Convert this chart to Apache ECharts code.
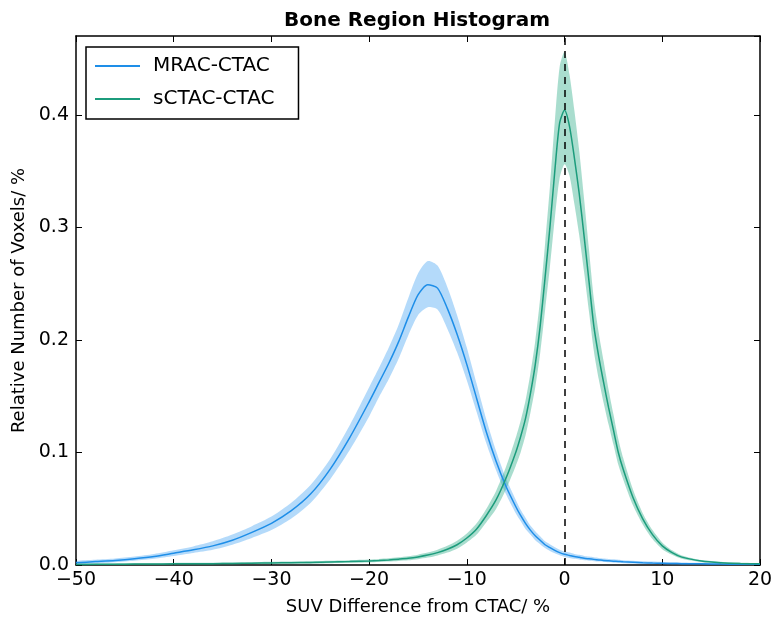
<!DOCTYPE html>
<html>
<head>
<meta charset="utf-8">
<script src="https://cdn.jsdelivr.net/npm/echarts@6/dist/echarts.min.js"></script>
<style>
  html, body { margin: 0; padding: 0; background: #fff; }
  #chart { width: 771px; height: 620px; }
</style>
</head>
<body>
<div id="chart"></div>
<script>
// SUV difference grid (%)
const xs = [-50, -48, -46, -44, -42, -40, -38, -36, -34, -32, -30, -28, -26, -24, -22, -20,
  -19, -18, -17, -16, -15, -14, -13, -12, -11, -10, -9, -8, -7, -6, -5,
  -4.5, -4, -3.5, -3, -2.5, -2, -1.5, -1, -0.5, 0, 0.5, 1, 1.5, 2, 2.5, 3, 3.5, 4, 4.5, 5, 5.5, 6,
  7, 8, 9, 10, 11, 12, 14, 16, 18, 20];

// MRAC-CTAC mean and band
const blueMean = [0.002, 0.003, 0.004, 0.0055, 0.0075, 0.0105, 0.0135, 0.017, 0.022, 0.029, 0.037, 0.048, 0.063, 0.085, 0.113, 0.145,
  0.162, 0.179, 0.198, 0.220, 0.240, 0.249, 0.246, 0.228, 0.205, 0.178, 0.148, 0.118, 0.092, 0.070, 0.052,
  0.044, 0.037, 0.031, 0.026, 0.022, 0.018, 0.0155, 0.013, 0.011, 0.0095, 0.0085, 0.0075, 0.0068, 0.006, 0.0055, 0.005, 0.0045, 0.004, 0.0037, 0.0034, 0.0031, 0.0028,
  0.0024, 0.002, 0.0017, 0.0015, 0.0013, 0.0012, 0.001, 0.0008, 0.0007, 0.0006];
const blueHigh = [0.0035, 0.0047, 0.0058, 0.0075, 0.0097, 0.013, 0.0165, 0.021, 0.027, 0.0345, 0.043, 0.055, 0.071, 0.094, 0.124, 0.158,
  0.175, 0.193, 0.213, 0.237, 0.259, 0.270, 0.266, 0.247, 0.222, 0.193, 0.161, 0.129, 0.101, 0.077, 0.058,
  0.049, 0.042, 0.035, 0.030, 0.0255, 0.021, 0.0185, 0.0158, 0.0136, 0.012, 0.011, 0.0098, 0.009, 0.0081, 0.0075, 0.0069, 0.0063, 0.0057, 0.0053, 0.005, 0.0046, 0.0043,
  0.0038, 0.0033, 0.003, 0.0027, 0.0025, 0.0023, 0.002, 0.0018, 0.0016, 0.0015];
const blueLow = [0.0008, 0.0015, 0.0024, 0.0037, 0.0055, 0.008, 0.0107, 0.0135, 0.018, 0.024, 0.031, 0.041, 0.055, 0.076, 0.102, 0.132,
  0.149, 0.165, 0.183, 0.204, 0.222, 0.229, 0.227, 0.210, 0.189, 0.164, 0.136, 0.108, 0.084, 0.063, 0.046,
  0.039, 0.032, 0.027, 0.022, 0.0185, 0.015, 0.0125, 0.0104, 0.0086, 0.0072, 0.0063, 0.0055, 0.0049, 0.0042, 0.0038, 0.0034, 0.003, 0.0026, 0.0024, 0.0021, 0.0019, 0.0016,
  0.0013, 0.001, 0.0008, 0.0006, 0.0005, 0.0004, 0.0003, 0.0002, 0.0002, 0.0001];

// sCTAC-CTAC mean and band
const greenMean = [0.0005, 0.0006, 0.0007, 0.0008, 0.0009, 0.001, 0.0011, 0.0012, 0.0014, 0.0016, 0.0018, 0.002, 0.0023, 0.0027, 0.0031, 0.0036,
  0.004, 0.0045, 0.0052, 0.006, 0.0072, 0.0088, 0.011, 0.014, 0.018, 0.024, 0.032, 0.044, 0.058, 0.077, 0.100,
  0.114, 0.130, 0.152, 0.178, 0.212, 0.255, 0.300, 0.350, 0.393, 0.404, 0.390, 0.362, 0.330, 0.292, 0.252, 0.212, 0.185, 0.162, 0.140, 0.120, 0.100, 0.085,
  0.060, 0.041, 0.027, 0.017, 0.011, 0.007, 0.0035, 0.002, 0.0013, 0.001];
const greenHigh = [0.0012, 0.0013, 0.0014, 0.0015, 0.0016, 0.0018, 0.0019, 0.002, 0.0022, 0.0025, 0.0028, 0.003, 0.0034, 0.0038, 0.0043, 0.0049,
  0.0054, 0.006, 0.0068, 0.0078, 0.0092, 0.011, 0.0135, 0.017, 0.0215, 0.028, 0.037, 0.050, 0.066, 0.087, 0.113,
  0.128, 0.146, 0.170, 0.199, 0.237, 0.285, 0.336, 0.394, 0.443, 0.456, 0.436, 0.404, 0.368, 0.325, 0.280, 0.236, 0.206, 0.181, 0.156, 0.134, 0.112, 0.095,
  0.067, 0.046, 0.031, 0.020, 0.013, 0.0085, 0.0045, 0.0028, 0.002, 0.0016];
const greenLow = [0.0001, 0.0001, 0.0002, 0.0002, 0.0003, 0.0003, 0.0004, 0.0005, 0.0006, 0.0008, 0.0009, 0.001, 0.0012, 0.0015, 0.0019, 0.0023,
  0.0026, 0.003, 0.0036, 0.0042, 0.0052, 0.0066, 0.0085, 0.011, 0.0145, 0.020, 0.027, 0.038, 0.050, 0.067, 0.088,
  0.100, 0.115, 0.135, 0.158, 0.188, 0.226, 0.265, 0.308, 0.344, 0.356, 0.346, 0.321, 0.293, 0.260, 0.225, 0.190, 0.165, 0.144, 0.125, 0.107, 0.089, 0.076,
  0.053, 0.036, 0.023, 0.014, 0.009, 0.0055, 0.0026, 0.0013, 0.0008, 0.0005];

const xTicks = [-50, -40, -30, -20, -10, 0, 10, 20];
const yTicks = [0.0, 0.1, 0.2, 0.3, 0.4];

const BLUE = '#1e8ee8';
const BLUE_BAND = 'rgba(40,150,240,0.35)';
const GREEN = '#1c9c7c';
const GREEN_BAND = 'rgba(30,165,125,0.38)';
const FONT = 'DejaVu Sans';

const pairs = (ys) => xs.map((x, i) => [x, ys[i]]);

// shaded band as one polygon: upper edge left->right, lower edge back
function band(name, lo, hi, color) {
  return {
    name: name, type: 'custom', silent: true, z: 1,
    data: xs.map((x, i) => [x, lo[i], hi[i]]),
    encode: {x: 0, y: [1, 2]},
    renderItem: (params, api) => {
      if (params.dataIndex !== 0) return;
      const top = xs.map((x, i) => api.coord([x, hi[i]]));
      const bot = xs.map((x, i) => api.coord([x, lo[i]])).reverse();
      const cs = params.coordSys;
      return {
        type: 'polygon',
        shape: {points: top.concat(bot), smooth: 0.25},
        style: {fill: color},
        clipPath: {type: 'rect', shape: {x: cs.x, y: cs.y, width: cs.width, height: cs.height}}
      };
    }
  };
}

const minus = (v) => (v < 0 ? '\u2212' + Math.abs(v) : String(v));

const chart = echarts.init(document.getElementById('chart'), null, {renderer: 'canvas'});

const axisLine = {show: true, onZero: false, lineStyle: {color: '#000', width: 1.5}};
const axisTick = {show: true, inside: true, length: 6, lineStyle: {color: '#000'}};

const option = {
  animation: false,
  backgroundColor: '#fff',
  title: {
    text: 'Bone Region Histogram',
    left: 412, top: 6, textAlign: 'center',
    textStyle: {fontFamily: FONT, fontWeight: 'bold', fontSize: 20, color: '#000'}
  },
  grid: {left: 76, right: 11, top: 36, bottom: 55, containLabel: false, outerBoundsMode: 'none'},
  legend: {
    data: [{name: 'MRAC-CTAC', icon: 'rect'}, {name: 'sCTAC-CTAC', icon: 'rect'}],
    orient: 'vertical',
    left: 86, top: 47,
    itemWidth: 45, itemHeight: 2, itemGap: 11,
    padding: [8, 24, 9, 9],
    borderColor: '#000', borderWidth: 1.5,
    textStyle: {fontFamily: FONT, fontSize: 20, lineHeight: 22, color: '#000', padding: [0, 0, 0, 8]}
  },
  xAxis: [
    {
      type: 'value', min: -50, max: 20, interval: 10,
      name: 'SUV Difference from CTAC/ %', nameLocation: 'middle', nameGap: 33,
      nameTextStyle: {fontFamily: FONT, fontSize: 18, color: '#000'},
      axisLine: axisLine, axisTick: axisTick,
      axisLabel: {fontFamily: FONT, fontSize: 19, color: '#000', margin: 6,
        formatter: (v) => (xTicks.includes(v) ? minus(v) : '')},
      splitLine: {show: false}
    },
    {
      type: 'value', min: -50, max: 20, interval: 10, position: 'top',
      axisLine: axisLine, axisTick: axisTick,
      axisLabel: {show: false}, splitLine: {show: false}
    }
  ],
  yAxis: [
    {
      type: 'value', min: 0, max: 0.47, interval: 0.1,
      name: 'Relative Number of Voxels/ %', nameLocation: 'middle', nameGap: 44,
      nameTextStyle: {fontFamily: FONT, fontSize: 18, color: '#000'},
      axisLine: axisLine, axisTick: axisTick,
      axisLabel: {fontFamily: FONT, fontSize: 19, color: '#000', margin: 7, showMaxLabel: false,
        formatter: (v) => (yTicks.some((t) => Math.abs(t - v) < 1e-9) ? v.toFixed(1) : '')},
      splitLine: {show: false}
    },
    {
      type: 'value', min: 0, max: 0.47, interval: 0.1, position: 'right',
      axisLine: axisLine, axisTick: axisTick,
      axisLabel: {show: false}, splitLine: {show: false}
    }
  ],
  series: [
    band('MRAC band', blueLow, blueHigh, BLUE_BAND),
    {
      name: 'MRAC-CTAC', type: 'line', data: pairs(blueMean), symbol: 'none', smooth: 0.25, z: 3,
      lineStyle: {color: BLUE, width: 1.5}, itemStyle: {color: BLUE}
    },
    band('sCTAC band', greenLow, greenHigh, GREEN_BAND),
    {
      name: 'sCTAC-CTAC', type: 'line', data: pairs(greenMean), symbol: 'none', smooth: 0.25, z: 3,
      lineStyle: {color: GREEN, width: 1.5}, itemStyle: {color: GREEN},
      markLine: {
        silent: true, symbol: 'none', label: {show: false},
        lineStyle: {color: '#000', type: [7, 6], width: 1.5},
        data: [{xAxis: 0}]
      }
    }
  ]
};

chart.setOption(option);
</script>
</body>
</html>
